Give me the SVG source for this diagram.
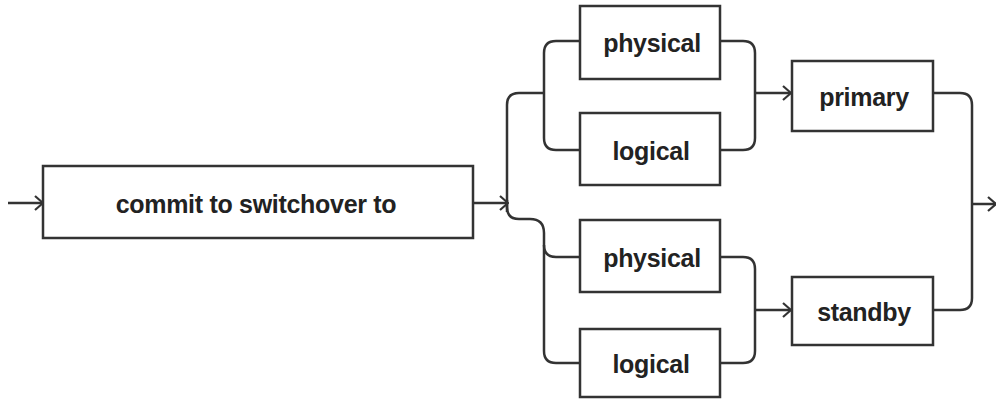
<svg xmlns="http://www.w3.org/2000/svg" width="996" height="403" viewBox="0 0 996 403">
  <style>
    .box { fill: #ffffff; stroke: #333333; stroke-width: 2.5; }
    .lbl { font-family: "Liberation Sans", Arial, sans-serif; font-weight: bold; font-size: 25px; letter-spacing: -0.3px; fill: #222222; text-anchor: middle; dominant-baseline: central; }
    .wire { fill: none; stroke: #333333; stroke-width: 2.5; }
    .arr { marker-end: url(#chev); }
  </style>
  <defs>
    <marker id="chev" viewBox="0 0 10 16" refX="9" refY="8" markerWidth="10" markerHeight="16" markerUnits="userSpaceOnUse" orient="auto">
      <path d="M1,1 L9,8 L1,15" fill="none" stroke="#333333" stroke-width="2.2"/>
    </marker>
  </defs>
  <rect width="996" height="403" fill="#ffffff"/>

  <g id="connectors">
    <!-- entry -->
    <path class="wire arr" d="M8,203 H43"/>
    <path class="wire arr" d="M473,203 H508"/>
    <!-- split to upper group -->
    <path class="wire" d="M507,212 V105 Q507,93 519,93 H544"/>
    <path class="wire" d="M580,41 H556 Q544,41 544,53 V138 Q544,150 556,150 H580"/>
    <!-- split to lower group -->
    <path class="wire" d="M507,200 V207 Q507,219 519,219 H530 Q544,219 544,233 V351 Q544,363 556,363 H580"/>
    <path class="wire" d="M544,245 Q544,257 556,257 H580"/>
    <!-- upper join -->
    <path class="wire" d="M720,41 H743 Q755,41 755,53 V138 Q755,150 743,150 H720"/>
    <path class="wire arr" d="M755,93 H791"/>
    <!-- lower join -->
    <path class="wire" d="M720,257 H743 Q755,257 755,269 V351 Q755,363 743,363 H720"/>
    <path class="wire arr" d="M755,310 H791"/>
    <!-- final join -->
    <path class="wire" d="M933,93 H960 Q972,93 972,105 V298 Q972,310 960,310 H933"/>
    <path class="wire arr" d="M972,204 H996"/>
  </g>

  <g id="commit">
    <rect class="box" x="43" y="166" width="430" height="72"/>
    <text class="lbl" x="256" y="204">commit to switchover to</text>
  </g>
  <g id="physical1">
    <rect class="box" x="580" y="6" width="140" height="73"/>
    <text class="lbl" x="652" y="43">physical</text>
  </g>
  <g id="logical1">
    <rect class="box" x="580" y="113" width="140" height="72"/>
    <text class="lbl" x="651" y="151">logical</text>
  </g>
  <g id="physical2">
    <rect class="box" x="580" y="220" width="140" height="72"/>
    <text class="lbl" x="652" y="258">physical</text>
  </g>
  <g id="logical2">
    <rect class="box" x="580" y="329" width="140" height="68"/>
    <text class="lbl" x="651" y="364">logical</text>
  </g>
  <g id="primary">
    <rect class="box" x="792" y="61" width="141" height="70"/>
    <text class="lbl" x="864" y="97">primary</text>
  </g>
  <g id="standby">
    <rect class="box" x="792" y="277" width="141" height="68"/>
    <text class="lbl" x="864" y="312">standby</text>
  </g>
</svg>
